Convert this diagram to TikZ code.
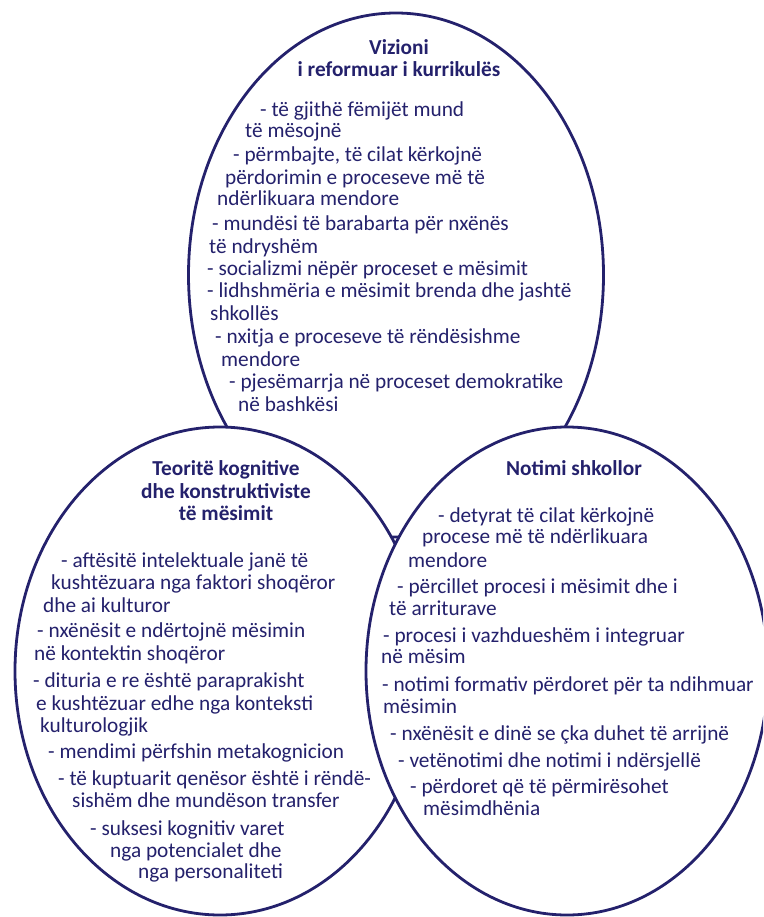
\documentclass[tikz,border=0pt]{standalone}
\usepackage{fontspec}
\setmainfont{Carlito}
\definecolor{navy}{RGB}{36,33,108}
\tikzset{
  ring/.style={draw=navy, line width=2.8pt},
  ringfill/.style={ring, fill=white},
  txt/.style={anchor=base west, inner sep=0pt, text=navy, font=\fontsize{21.3}{23}\selectfont},
  head/.style={anchor=base, inner sep=0pt, text=navy, font=\fontsize{21.3}{23}\selectfont\bfseries},
}
\begin{document}
\begin{tikzpicture}[x=1pt, y=-1pt]
\useasboundingbox (0,0) rectangle (763,917);
\clip (0,0) rectangle (763,917);

% the three overlapping fields; the lower two cover the top one
\draw[ring] (396,275) ellipse [x radius=207.5pt, y radius=262pt];
\draw[ringfill] (220,671) ellipse [x radius=205pt, y radius=244pt];
\draw[ringfill] (567,671) ellipse [x radius=201pt, y radius=244pt];

% top field
\node[head] (vh1) at (399,55) {Vizioni};
\node[head] (vh2) at (399,77) {i reformuar i kurrikulës};
\node[txt] (v1)  at (260,117) {- të gjithë fëmijët mund};
\node[txt] (v2)  at (245,138) {të mësojnë};
\node[txt] (v3)  at (233,162) {- përmbajte, të cilat kërkojnë};
\node[txt] (v4)  at (225,185) {përdorimin e proceseve më të};
\node[txt] (v5)  at (217,206) {ndërlikuara mendore};
\node[txt] (v6)  at (212,230) {- mundësi të barabarta për nxënës};
\node[txt] (v7)  at (209,253) {të ndryshëm};
\node[txt] (v8)  at (207,275) {- socializmi nëpër proceset e mësimit};
\node[txt] (v9)  at (207,297) {- lidhshmëria e mësimit brenda dhe jashtë};
\node[txt] (v10) at (210,320) {shkollës};
\node[txt] (v11) at (215,343) {- nxitja e proceseve të rëndësishme};
\node[txt] (v12) at (221,366) {mendore};
\node[txt] (v13) at (229,388) {- pjesëmarrja në proceset demokratike};
\node[txt] (v14) at (238,411) {në bashkësi};

% left field
\node[head] (kh1) at (226,475) {Teoritë kognitive};
\node[head] (kh2) at (226,498) {dhe konstruktiviste};
\node[head] (kh3) at (226,520) {të mësimit};
\node[txt] (k1)  at (61,567) {- aftësitë intelektuale janë të};
\node[txt] (k2)  at (51,589) {kushtëzuara nga faktori shoqëror};
\node[txt] (k3)  at (43,612) {dhe ai kulturor};
\node[txt] (k4)  at (37,637) {- nxënësit e ndërtojnë mësimin};
\node[txt] (k5)  at (34,660) {në kontektin shoqëror};
\node[txt] (k6)  at (33,687) {- dituria e re është paraprakisht};
\node[txt] (k7)  at (36,710) {e kushtëzuar edhe nga konteksti};
\node[txt] (k8)  at (40,732) {kulturologjik};
\node[txt] (k9)  at (48,758) {- mendimi përfshin metakognicion};
\node[txt] (k10) at (58,785) {- të kuptuarit qenësor është i rëndë-};
\node[txt] (k11) at (72,807) {sishëm dhe mundëson transfer};
\node[txt] (k12) at (90,835) {- suksesi kognitiv varet};
\node[txt] (k13) at (110,857) {nga potencialet dhe};
\node[txt] (k14) at (138,878) {nga personaliteti};

% right field
\node[head] (nh1) at (574,475) {Notimi shkollor};
\node[txt] (n1)  at (438,522) {- detyrat të cilat kërkojnë};
\node[txt] (n2)  at (422,543) {procese më të ndërlikuara};
\node[txt] (n3)  at (408,567) {mendore};
\node[txt] (n4)  at (397,593) {- përcillet procesi i mësimit dhe i};
\node[txt] (n5)  at (389,615) {të arriturave};
\node[txt] (n6)  at (383,642) {- procesi i vazhdueshëm i integruar};
\node[txt] (n7)  at (381,663) {në mësim};
\node[txt] (n8)  at (382,691) {- notimi formativ përdoret për ta ndihmuar};
\node[txt] (n9)  at (383,713) {mësimin};
\node[txt] (n10) at (390,740) {- nxënësit e dinë se çka duhet të arrijnë};
\node[txt] (n11) at (398,767) {- vetënotimi dhe notimi i ndërsjellë};
\node[txt] (n12) at (410,793) {- përdoret që të përmirësohet};
\node[txt] (n13) at (423,815) {mësimdhënia};
\end{tikzpicture}
\end{document}
